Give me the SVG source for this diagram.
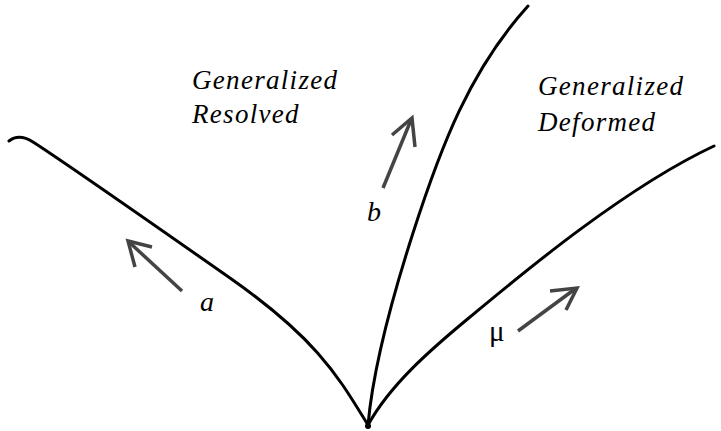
<svg xmlns="http://www.w3.org/2000/svg" width="721" height="431" viewBox="0 0 721 431">
<style>
.curve{fill:none;stroke:#000;stroke-width:3;stroke-linecap:round;stroke-linejoin:round}
.arr{fill:none;stroke:#444;stroke-width:3.5;stroke-linecap:butt;stroke-linejoin:miter}
text{font-family:'Liberation Serif','Times New Roman',Times,serif;fill:#000}
.lbl{font-style:italic;font-size:27px;letter-spacing:1.3px}
.sym{font-style:italic;font-size:28px}
</style>
<rect width="721" height="431" fill="#fff"/>
<g id="connectors">
<path class="curve" d="M9,141 C14,137 22,135 33,142 S 140,215 230,278 S 340,380 368,425"/>
<path class="curve" d="M368,425 C372,380 385,320 413,233 S 470,70 528,6"/>
<path class="curve" d="M368,425 C390,385 430,350 470,317 S 620,190 714,146"/>
</g>
<g id="arrow-a">
<path class="arr" d="M182,291 L129,242"/>
<path class="arr" d="M152,247 L128,241 L135,267"/>
</g>
<g id="arrow-b">
<path class="arr" d="M383,188 L411,120"/>
<path class="arr" d="M392,135 L412,118 L415,147"/>
</g>
<g id="arrow-mu">
<path class="arr" d="M518,331 L575,289"/>
<path class="arr" d="M550,291 L577,288 L566,310"/>
</g>
<g id="cusp"><circle cx="368" cy="426" r="3" fill="#000"/></g>
<g id="region-resolved">
<text class="lbl" x="192" y="89">Generalized</text>
<text class="lbl" x="192" y="123">Resolved</text>
</g>
<g id="region-deformed">
<text class="lbl" x="538" y="95">Generalized</text>
<text class="lbl" x="538" y="131">Deformed</text>
</g>
<g id="labels">
<text class="sym" x="200" y="311">a</text>
<text class="sym" x="367" y="221">b</text>
<text x="489" y="341" font-size="29">μ</text>
</g>
</svg>
